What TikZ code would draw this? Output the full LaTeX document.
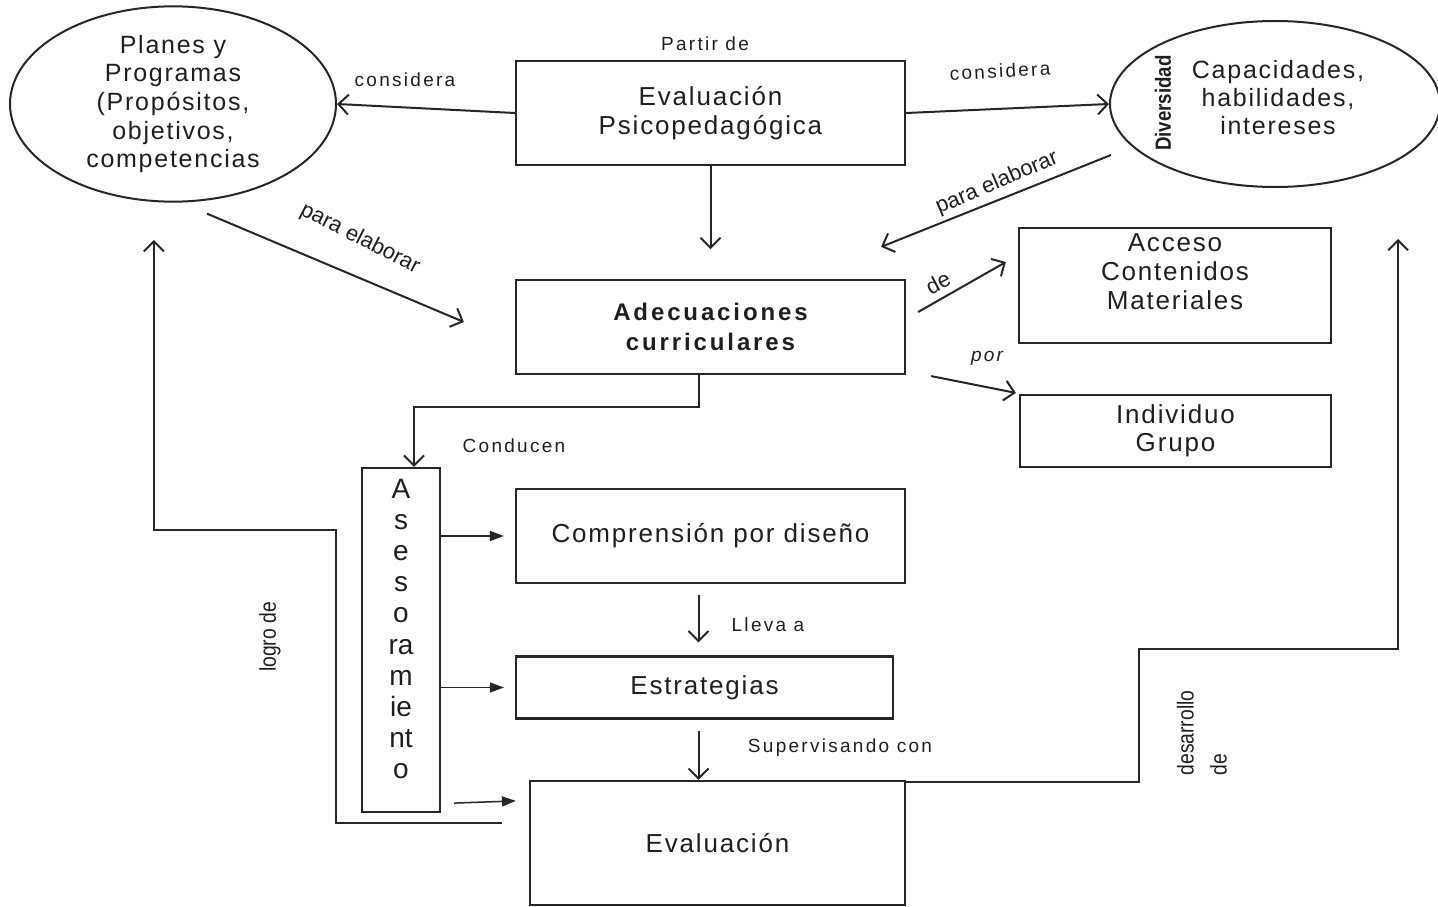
\documentclass[tikz,border=0pt]{standalone}
\usepackage{fontspec}
\setmainfont{Liberation Sans}
\newfontfamily\lsA[LetterSpace=7]{Liberation Sans}
\newfontfamily\lsB[LetterSpace=12]{Liberation Sans}
\usetikzlibrary{shapes.geometric,arrows.meta,calc}
\tikzset{
 every node/.style={text=black!88},
 box/.style={draw=black!85, line width=2.2pt, inner sep=0pt, align=center, font=\lsA\fontsize{26}{28.5}\selectfont},
 oval/.style={ellipse, draw=black!85, line width=2pt, inner sep=0pt, align=center, font=\lsA\fontsize{25}{28.7}\selectfont},
 lbl/.style={inner sep=0pt, font=\lsB\fontsize{19}{22}\selectfont},
 slbl/.style={inner sep=0pt, font=\fontsize{22}{24}\selectfont},
 rlbl/.style={inner sep=0pt, font=\fontsize{23}{33}\selectfont, rotate=90, align=left},
 arr/.style={draw=black!85, line width=2pt, -{Straight Barb[length=10pt,width=20pt,line width=2pt]}},
 farr/.style={draw=black!85, line width=1.5pt, -{Triangle[length=14pt,width=10pt]}},
}
\newcommand{\narrow}[1]{\scalebox{0.84}[1]{#1}}
\begin{document}
\begin{tikzpicture}[x=1pt,y=-1pt]
\useasboundingbox (0,0) rectangle (1438,907);
% ovals
\node[oval, minimum width=326pt, minimum height=166pt] (pp) at (173,104) {Planes y\\Programas\\(Propósitos,\\objetivos,\\competencias};
\node[oval, minimum width=330pt, minimum height=166pt] (cap) at (1275,104) {};
\node[inner sep=0pt, align=center, font=\lsA\fontsize{25}{28}\selectfont] (capt) at (1278,98) {Capacidades,\\habilidades,\\intereses};
\node[inner sep=0pt, rotate=90, font=\bfseries\fontsize{22}{24}\selectfont] (div) at (1163,103) {\scalebox{0.85}[1]{Diversidad}};
% boxes
\node[box, minimum width=389pt, minimum height=104pt] (ep) at (710.5,113) {Evaluación\\Psicopedagógica};
\node[box, minimum width=389pt, minimum height=94pt, font=\lsB\bfseries\fontsize{24}{30}\selectfont] (ad) at (710.5,327) {Adecuaciones\\curriculares};
\node[box, minimum width=312pt, minimum height=115pt] (acc) at (1175,285.5) {};
\node[box, draw=none, font=\lsA\fontsize{26}{29}\selectfont] (acct) at (1175,272) {Acceso\\Contenidos\\Materiales};
\node[box, minimum width=311pt, minimum height=72pt] (ind) at (1175.5,431) {Individuo\\Grupo};
\node[box, minimum width=78pt, minimum height=344pt] (ase) at (401,640) {};
\node[box, draw=none, font=\fontsize{28}{31.2}\selectfont] (aset) at (401,629) {A\\s\\e\\s\\o\\ra\\m\\ie\\nt\\o};
\node[box, minimum width=389pt, minimum height=94pt] (com) at (710.5,536) {Comprensión por diseño};
\node[box, minimum width=377pt, minimum height=62pt] (est) at (704.5,687.5) {Estrategias};
\node[box, minimum width=375pt, minimum height=124pt] (ev) at (717.5,843) {Evaluación};
% labels
\node[lbl] (l1) at (705,44) {Partir de};
\node[lbl] (l2) at (405,80) {considera};
\node[lbl, rotate=3] (l3) at (1000,71) {considera};
\node[slbl, rotate=-27] (l4) at (360,239) {para elaborar};
\node[slbl, rotate=23] (l5) at (997,183) {para elaborar};
\node[slbl, rotate=28] (l6) at (938,283) {de};
\node[lbl, font=\lsB\itshape\fontsize{19}{22}\selectfont] (l7) at (987,358) {por};
\node[lbl] (l8) at (514,446) {Conducen};
\node[lbl] (l9) at (768,625) {Lleva a};
\node[lbl] (l10) at (840,748) {Supervisando con};
\node[rlbl] (l11) at (270,637) {\narrow{logro de}};
\node[rlbl] (l12) at (1202,733) {\narrow{desarrollo}\\\narrow{de}};
% connectors
\draw[arr] (ep.west) -- (pp.east);
\draw[arr] (ep.east) -- (cap.west);
\draw[arr] (ep.south) -- ++(0,83);
\draw[arr] ($(pp.south)+(34,11)$) -- ($(ad.west)+(-51,-5)$);
\draw[arr] ($(cap.west)+(2,51)$) -- ($(ad.north east)+(-25,-32)$);
\draw[arr] ($(ad.east)+(12,-15)$) -- ($(acc.west)+(-12,-23.5)$);
\draw[arr] ($(ad.south east)+(25,1)$) -- ($(ind.north west)+(-3,-1)$);
\draw[arr] ($(ad.south)+(-12,0)$) -- ++(0,32) -| ($(ase.north)+(13,0)$);
\draw[farr] (ase.east |- com.west) -- ($(com.west)+(-11,0)$);
\draw[farr] (ase.east |- est.west) -- ($(est.west)+(-11,0)$);
\draw[farr] ($(ase.south east)+(13,-10)$) -- ($(ev.north west)+(-13,21)$);
\draw[arr] ($(com.south)+(-12,11)$) -- ($(est.north)+(-6,-13)$);
\draw[arr] ($(est.south)+(-6,11)$) -- ($(ev.north)+(-19,0)$);
\draw[arr] ($(ev.west)+(-27,-20)$) -- ++(-166,0) -- ++(0,-293) -- ++(-182,0) -- ++(0,-290);
\draw[arr] ($(ev.north east)+(0,2)$) -- ++(233,0) -- ++(0,-133) -- ++(259,0) -- ++(0,-410);
\end{tikzpicture}
\end{document}
